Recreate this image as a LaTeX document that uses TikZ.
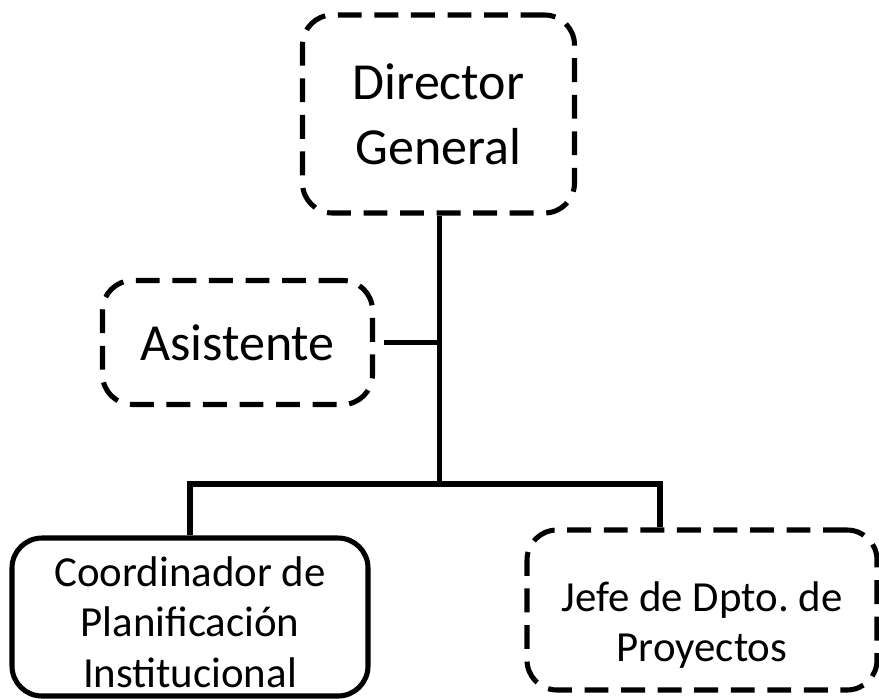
\documentclass[tikz,border=0pt]{standalone}
\usepackage{fontspec}
\setmainfont{Carlito}
\begin{document}
\begin{tikzpicture}[scale=0.25]
\tikzstyle{every node}+=[inner sep=0pt, align=center]
\tikzstyle{box}=[draw=black, line width=3.6pt, rounded corners=0.75cm]
\tikzstyle{dashbox}=[box, dash pattern=on 17pt off 9pt]
\tikzstyle{bigtext}=[font=\fontsize{37}{46}\selectfont]
\tikzstyle{smalltext}=[font=\fontsize{30.5}{36}\selectfont]
\tikzstyle{conn}=[draw=black, line width=4.2pt]
\useasboundingbox (0,0) rectangle (87.9,-69.8);

\node [dashbox, bigtext, minimum width=6.8cm, minimum height=4.95cm] (director) at (43.85,-11.4) {Director\\General};
\node [dashbox, bigtext, minimum width=6.75cm, minimum height=3.1cm] (asistente) at (23.75,-34.25) {Asistente};

\node [box, smalltext, minimum width=8.9cm, minimum height=3.95cm] (coordinador) at (19.0,-61.7) {\rule{0pt}{1.0cm}Coordinador de\\Planificación\\Institucional};
\node [dashbox, smalltext, minimum width=8.75cm, minimum height=4.0cm] (jefe) at (70.2,-61.0) {\rule{0pt}{1.5cm}Jefe de Dpto.\ de\\Proyectos};

\coordinate (hub) at (43.95,-48.4);
\coordinate (jefedrop) at (66.0,-48.4);
\draw [conn] (director.south -| hub) -- (hub);
\draw [conn, shorten <=0.22cm] (asistente.east) -- (asistente.east -| hub);
\draw [conn] (hub) -| (coordinador.north);
\draw [conn] (hub) -- (jefedrop) -- (jefedrop |- jefe.north);
\end{tikzpicture}
\end{document}
